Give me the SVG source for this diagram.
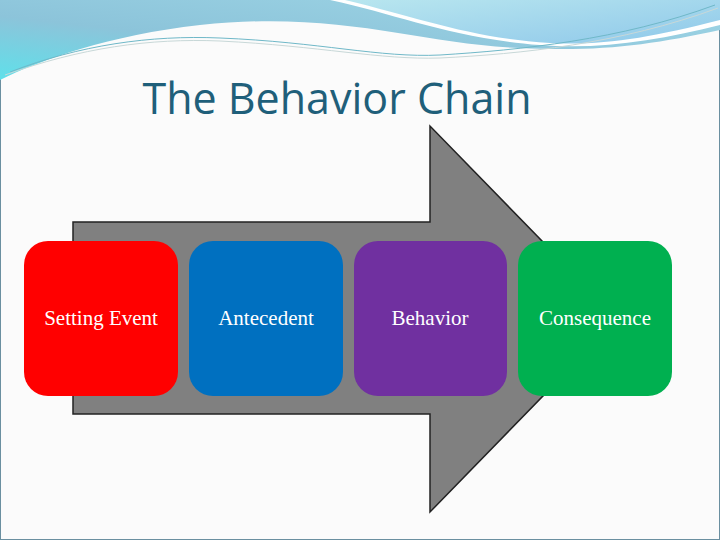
<svg xmlns="http://www.w3.org/2000/svg" width="720" height="540" viewBox="0 0 720 540">
<defs>
<linearGradient id="wv" x1="0" y1="1" x2="1" y2="0"><stop offset="0" stop-color="#5fe0ea"/><stop offset="0.4" stop-color="#8cc4da"/><stop offset="1" stop-color="#9fd6e6"/></linearGradient>
<linearGradient id="wv2" x1="0" y1="0" x2="1" y2="1"><stop offset="0" stop-color="#b8e6ef"/><stop offset="1" stop-color="#8fc8ea"/></linearGradient>
</defs>
<style>
.box{stroke:none}
.lbl{font-family:"Liberation Serif",serif;font-size:21px;fill:#fff;text-anchor:middle}
</style>
<rect width="720" height="540" fill="#fbfbfb" stroke="#6a8fa0" stroke-width="2"/>
<path d="M0,0 H720 V30 C650,45 600,52 520,48 C420,44 340,10 200,25 C110,35 40,60 0,80 Z" fill="url(#wv)"/>
<path d="M330,0 H720 V25 C660,40 600,50 540,45 C450,38 400,15 330,0 Z" fill="#fff"/>
<path d="M345,0 H720 V20 C650,38 600,46 550,43 C470,38 420,18 345,0 Z" fill="url(#wv2)"/>
<path d="M10,72 C80,45 150,35 220,38 C320,42 380,58 440,55 C520,50 620,40 715,5" fill="none" stroke="#6fb8c8" stroke-width="1"/>
<path d="M5,75 C80,48 150,38 220,41 C320,46 380,60 440,58 C520,54 620,44 718,8" fill="none" stroke="#c8d8d8" stroke-width="1"/>
<text x="337" y="114" font-family="Open Sans, sans-serif" font-size="43" fill="#1f5f7a" text-anchor="middle">The Behavior Chain</text>
<g id="arrow"><path d="M73,222 H430 V126 L618,319 L430,512 V414 H73 Z" fill="#808080" stroke="#222" stroke-width="1.5"/></g>
<g id="setting"><rect class="box" x="24" y="241" width="154" height="155" rx="24" fill="#ff0000"/><text class="lbl" x="101" y="325">Setting Event</text></g>
<g id="antecedent"><rect class="box" x="189" y="241" width="154" height="155" rx="24" fill="#0070c0"/><text class="lbl" x="266" y="325">Antecedent</text></g>
<g id="behavior"><rect class="box" x="354" y="241" width="153" height="155" rx="24" fill="#7030a0"/><text class="lbl" x="430" y="325">Behavior</text></g>
<g id="consequence"><rect class="box" x="518" y="241" width="154" height="155" rx="24" fill="#00b050"/><text class="lbl" x="595" y="325">Consequence</text></g>
<g id="connectors"/>
</svg>
